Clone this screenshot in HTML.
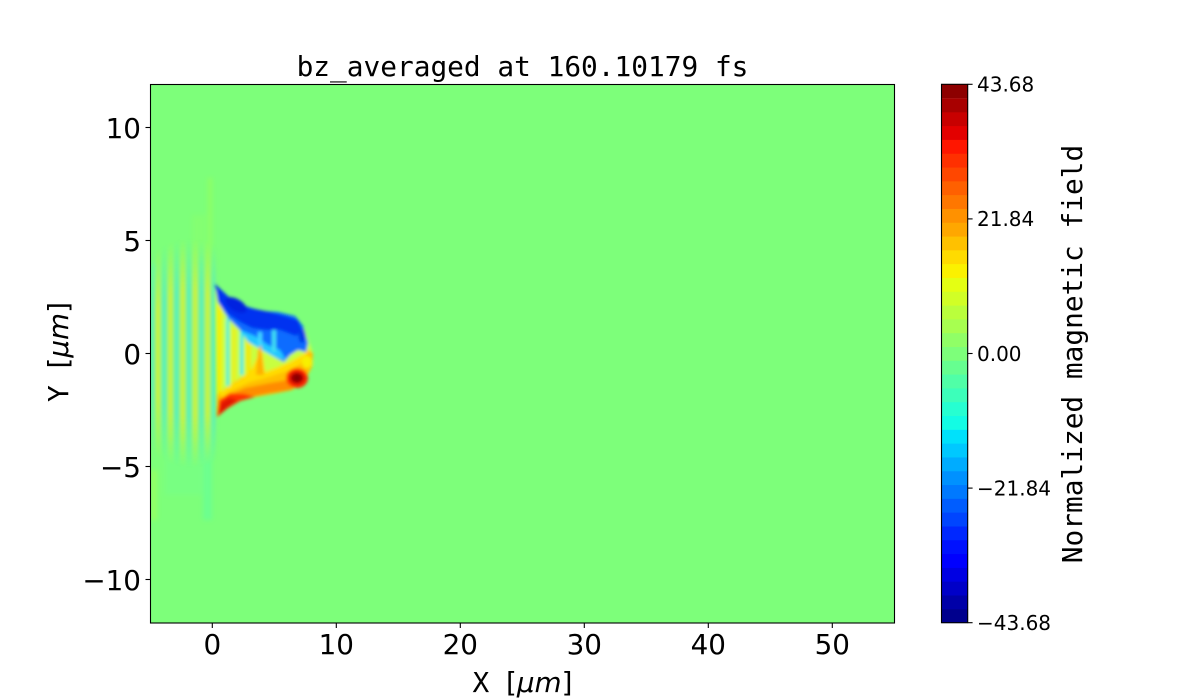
<!DOCTYPE html>
<html><head><meta charset="utf-8"><style>
html,body{margin:0;padding:0;background:#fff;}
svg{display:block;}
</style></head><body>
<svg width="1200" height="700" viewBox="0 0 1200 700" xmlns="http://www.w3.org/2000/svg">
<defs>
  <filter id="b1" x="-30%" y="-30%" width="160%" height="160%"><feGaussianBlur stdDeviation="1.5"/></filter>
  <filter id="b2" x="-30%" y="-30%" width="160%" height="160%"><feGaussianBlur stdDeviation="2.5"/></filter>
  <linearGradient id="st" gradientUnits="userSpaceOnUse" x1="145.6" y1="0" x2="158" y2="0" spreadMethod="repeat">
    <stop offset="0" stop-color="#dcf424"/>
    <stop offset="0.5" stop-color="#40f0d0"/>
    <stop offset="1" stop-color="#dcf424"/>
  </linearGradient>
  <radialGradient id="rg" cx="0.5" cy="0.5" r="0.5">
    <stop offset="0" stop-color="#fff"/>
    <stop offset="0.55" stop-color="#fff"/>
    <stop offset="1" stop-color="#000"/>
  </radialGradient>
  <mask id="m1" maskUnits="userSpaceOnUse" x="0" y="0" width="1200" height="700">
    <rect x="110" y="238" width="160" height="230" fill="url(#rg)"/>
  </mask>
  <clipPath id="ax"><rect x="151" y="84.5" width="743" height="538"/></clipPath>
</defs>

<!-- plot background -->
<rect x="151" y="84.5" width="743" height="538" fill="rgb(125,255,122)"/>

<g clip-path="url(#ax)">
  <!-- faint outer features -->
  <g filter="url(#b2)" opacity="0.45">
    <rect x="208" y="178" width="4" height="110" fill="#a8ff48"/>
    <rect x="192" y="215" width="14" height="45" fill="#a0ff50" opacity="0.4"/>
    <rect x="203" y="420" width="9" height="100" fill="#58ffa8"/>
    <rect x="165" y="440" width="40" height="55" fill="#68ffa0" opacity="0.5"/>
    <rect x="151" y="265" width="8" height="60" fill="#60ffb0"/>
    <rect x="151" y="470" width="6" height="50" fill="#b0ff48"/>
  </g>
  <!-- stripes -->
  <rect x="151" y="238" width="66" height="230" fill="url(#st)" mask="url(#m1)" filter="url(#b1)"/>

  <g filter="url(#b1)">
    <!-- body base -->
    <polygon points="215,290 232,302 262,312 295,317 305,330 312,350 313,365 305,380 292,390 255,397 232,403 217,417" fill="#c8ff40"/>
    <!-- streaks in middle -->
    <rect x="217" y="305" width="5" height="92" fill="#f0f000"/>
    <rect x="226" y="318" width="3.5" height="68" fill="#50f0d0"/>
    <rect x="232" y="328" width="4" height="56" fill="#e8f020"/>
    <rect x="240" y="325" width="3.5" height="50" fill="#40e8e0"/>
    <rect x="246" y="330" width="5" height="45" fill="#f0e800"/>

    <!-- blue region -->
    <polygon points="215,284 232,300 245,306 262,311 278,312 295,316 303,326 308,343 306,352 298,350 290,355 284,362 276,358 268,352 258,345 248,338 238,328 228,318 218,302" fill="#0a6cff"/>
    <polygon points="240,330 255,336 268,345 280,350 286,360 276,358 262,350 248,342" fill="#20c8ff"/>
    <rect x="272" y="330" width="4" height="22" fill="#40e0f0"/>
    <rect x="258" y="332" width="4" height="13" fill="#40d8ff"/>
    <polygon points="215,284 232,300 250,308 270,312 285,316 298,320 302,330 296,336 280,330 265,330 252,328 240,322 228,314 218,302" fill="#0030f0"/>
    <ellipse cx="236" cy="305" rx="12" ry="6" fill="#0024e0" transform="rotate(30 236 305)"/>
    <ellipse cx="302" cy="336" rx="3.5" ry="7" fill="#0038e8"/>

    <!-- red / yellow region -->
    <polygon points="217,417 232,403 255,397 278,393 292,390 305,380 312,367 313,353 308,350 300,358 290,364 275,370 265,375 262,352 257,360 250,372 238,380 226,388 217,395" fill="#ffc000"/>
    <polygon points="220,393 230,386 242,379 251,370 257,358 262,351 265,372 276,368 290,362 300,356 308,352 303,362 290,370 272,376 250,382 232,390 222,398" fill="#ffdc00"/>
    <polygon points="222,398 245,388 270,383 288,380 300,375 305,382 290,390 270,393 245,398 225,410" fill="#ff8c00"/>
    <polygon points="217,417 219,400 230,393 245,394 255,397 240,401 228,408" fill="#ff3000"/>
    <polygon points="219,414 221,403 229,398 237,400 227,408" fill="#e01800"/>
    <polygon points="256,375 258,350 261,345 264,375" fill="#ffb000"/>
    <ellipse cx="307" cy="362" rx="5" ry="6" fill="#f8f000"/>
    <ellipse cx="297" cy="378" rx="11" ry="10" fill="#ff2800"/>
    <ellipse cx="297" cy="378" rx="7" ry="6" fill="#b40000"/>
    <ellipse cx="297" cy="378" rx="4" ry="3.5" fill="#850000"/>
  </g>
</g>

<!-- axes frame -->
<rect x="150.5" y="84.5" width="744" height="538.5" fill="none" stroke="#000" stroke-width="1.1"/>

<g stroke="#000" stroke-width="1.1">
  <line x1="212.3" y1="623" x2="212.3" y2="628"/>
  <line x1="336.3" y1="623" x2="336.3" y2="628"/>
  <line x1="460.3" y1="623" x2="460.3" y2="628"/>
  <line x1="584.3" y1="623" x2="584.3" y2="628"/>
  <line x1="708.3" y1="623" x2="708.3" y2="628"/>
  <line x1="832.3" y1="623" x2="832.3" y2="628"/>
  <line x1="145.5" y1="127.5" x2="150.5" y2="127.5"/>
  <line x1="145.5" y1="240.5" x2="150.5" y2="240.5"/>
  <line x1="145.5" y1="353.5" x2="150.5" y2="353.5"/>
  <line x1="145.5" y1="466.5" x2="150.5" y2="466.5"/>
  <line x1="145.5" y1="579.5" x2="150.5" y2="579.5"/>
</g>

<g font-family="'DejaVu Sans','Liberation Sans',sans-serif" font-size="27.8" fill="#000">
  <g text-anchor="middle">
    <text x="212.3" y="654">0</text>
    <text x="336.3" y="654">10</text>
    <text x="460.3" y="654">20</text>
    <text x="584.3" y="654">30</text>
    <text x="708.3" y="654">40</text>
    <text x="832.3" y="654">50</text>
  </g>
  <g text-anchor="end">
    <text x="141" y="138">10</text>
    <text x="141" y="251">5</text>
    <text x="141" y="364">0</text>
    <text x="141" y="477">−5</text>
    <text x="141" y="590">−10</text>
  </g>
</g>

<text x="522.5" y="76" text-anchor="middle" font-family="'DejaVu Sans Mono','Liberation Mono',monospace" font-size="27.8" fill="#000">bz_averaged at 160.10179 fs</text>

<text x="522.5" y="692" text-anchor="middle" font-size="27.8" fill="#000"><tspan font-family="'DejaVu Sans Mono','Liberation Mono',monospace">X </tspan><tspan font-family="'DejaVu Sans',sans-serif">[</tspan><tspan font-family="'DejaVu Sans',sans-serif" font-style="italic">μm</tspan><tspan font-family="'DejaVu Sans',sans-serif">]</tspan></text>

<text transform="translate(68,352) rotate(-90)" text-anchor="middle" font-size="27.8" fill="#000"><tspan font-family="'DejaVu Sans Mono','Liberation Mono',monospace">Y </tspan><tspan font-family="'DejaVu Sans',sans-serif">[</tspan><tspan font-family="'DejaVu Sans',sans-serif" font-style="italic">μm</tspan><tspan font-family="'DejaVu Sans',sans-serif">]</tspan></text>

<!-- colorbar bands -->
<g>
  <rect x="941.5" y="608.90" width="26.2" height="14.2" fill="rgb(0,0,141)"/>
  <rect x="941.5" y="595.09" width="26.2" height="14.2" fill="rgb(0,0,168)"/>
  <rect x="941.5" y="581.29" width="26.2" height="14.2" fill="rgb(0,0,200)"/>
  <rect x="941.5" y="567.48" width="26.2" height="14.2" fill="rgb(0,0,227)"/>
  <rect x="941.5" y="553.68" width="26.2" height="14.2" fill="rgb(0,0,255)"/>
  <rect x="941.5" y="539.87" width="26.2" height="14.2" fill="rgb(0,17,255)"/>
  <rect x="941.5" y="526.07" width="26.2" height="14.2" fill="rgb(0,40,255)"/>
  <rect x="941.5" y="512.26" width="26.2" height="14.2" fill="rgb(0,69,255)"/>
  <rect x="941.5" y="498.46" width="26.2" height="14.2" fill="rgb(0,93,255)"/>
  <rect x="941.5" y="484.65" width="26.2" height="14.2" fill="rgb(0,121,255)"/>
  <rect x="941.5" y="470.85" width="26.2" height="14.2" fill="rgb(0,145,255)"/>
  <rect x="941.5" y="457.04" width="26.2" height="14.2" fill="rgb(0,172,255)"/>
  <rect x="941.5" y="443.24" width="26.2" height="14.2" fill="rgb(0,200,255)"/>
  <rect x="941.5" y="429.43" width="26.2" height="14.2" fill="rgb(0,225,251)"/>
  <rect x="941.5" y="415.63" width="26.2" height="14.2" fill="rgb(19,252,228)"/>
  <rect x="941.5" y="401.82" width="26.2" height="14.2" fill="rgb(38,255,209)"/>
  <rect x="941.5" y="388.02" width="26.2" height="14.2" fill="rgb(60,255,186)"/>
  <rect x="941.5" y="374.21" width="26.2" height="14.2" fill="rgb(80,255,167)"/>
  <rect x="941.5" y="360.41" width="26.2" height="14.2" fill="rgb(102,255,144)"/>
  <rect x="941.5" y="346.60" width="26.2" height="14.2" fill="rgb(125,255,122)"/>
  <rect x="941.5" y="332.80" width="26.2" height="14.2" fill="rgb(144,255,102)"/>
  <rect x="941.5" y="318.99" width="26.2" height="14.2" fill="rgb(167,255,80)"/>
  <rect x="941.5" y="305.19" width="26.2" height="14.2" fill="rgb(186,255,60)"/>
  <rect x="941.5" y="291.38" width="26.2" height="14.2" fill="rgb(209,255,38)"/>
  <rect x="941.5" y="277.58" width="26.2" height="14.2" fill="rgb(228,255,19)"/>
  <rect x="941.5" y="263.77" width="26.2" height="14.2" fill="rgb(251,241,0)"/>
  <rect x="941.5" y="249.97" width="26.2" height="14.2" fill="rgb(255,219,0)"/>
  <rect x="941.5" y="236.16" width="26.2" height="14.2" fill="rgb(255,193,0)"/>
  <rect x="941.5" y="222.36" width="26.2" height="14.2" fill="rgb(255,167,0)"/>
  <rect x="941.5" y="208.55" width="26.2" height="14.2" fill="rgb(255,145,0)"/>
  <rect x="941.5" y="194.75" width="26.2" height="14.2" fill="rgb(255,119,0)"/>
  <rect x="941.5" y="180.94" width="26.2" height="14.2" fill="rgb(255,96,0)"/>
  <rect x="941.5" y="167.14" width="26.2" height="14.2" fill="rgb(255,71,0)"/>
  <rect x="941.5" y="153.33" width="26.2" height="14.2" fill="rgb(255,48,0)"/>
  <rect x="941.5" y="139.53" width="26.2" height="14.2" fill="rgb(255,22,0)"/>
  <rect x="941.5" y="125.72" width="26.2" height="14.2" fill="rgb(227,0,0)"/>
  <rect x="941.5" y="111.92" width="26.2" height="14.2" fill="rgb(200,0,0)"/>
  <rect x="941.5" y="98.11" width="26.2" height="14.2" fill="rgb(168,0,0)"/>
  <rect x="941.5" y="84.31" width="26.2" height="13.9" fill="rgb(141,0,0)"/>
</g>
<rect x="941.5" y="84.3" width="26.2" height="538.4" fill="none" stroke="#000" stroke-width="1.1"/>
<g stroke="#000" stroke-width="1.1">
  <line x1="967.7" y1="84.3" x2="972.6" y2="84.3"/>
  <line x1="967.7" y1="218.9" x2="972.6" y2="218.9"/>
  <line x1="967.7" y1="353.5" x2="972.6" y2="353.5"/>
  <line x1="967.7" y1="488.1" x2="972.6" y2="488.1"/>
  <line x1="967.7" y1="622.7" x2="972.6" y2="622.7"/>
</g>
<g font-family="'DejaVu Sans','Liberation Sans',sans-serif" font-size="20" fill="#000">
  <text x="977" y="91.6">43.68</text>
  <text x="977" y="226.2">21.84</text>
  <text x="977" y="360.8">0.00</text>
  <text x="977" y="495.4">−21.84</text>
  <text x="977" y="630">−43.68</text>
</g>
<text transform="translate(1082,354) rotate(-90)" text-anchor="middle" font-family="'DejaVu Sans Mono','Liberation Mono',monospace" font-size="27.8" fill="#000">Normalized magnetic field</text>
</svg>
</body></html>
